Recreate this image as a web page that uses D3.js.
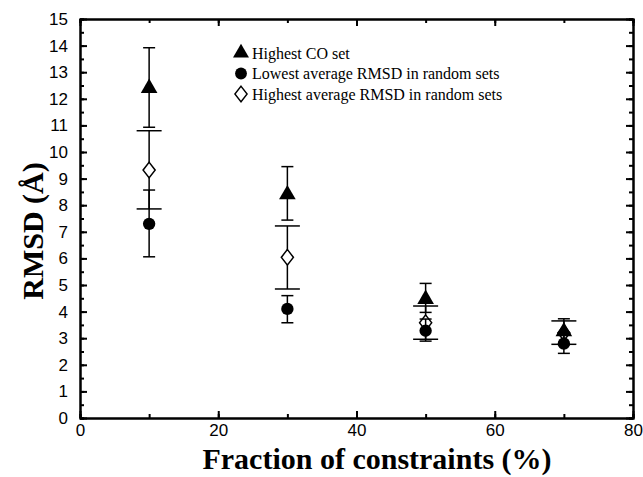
<!DOCTYPE html>
<html lang="en">
  <head>
    <meta charset="UTF-8" />
    <title>RMSD vs fraction of constraints</title>
    <script src="https://cdnjs.cloudflare.com/ajax/libs/d3/7.8.5/d3.min.js"></script>
    <style>
      body {
        margin: 0;
        background: #fff;
      }
      svg {
        font-family: 'Liberation Serif', 'Times New Roman', serif;
      }
      .axis path,
      .axis line {
        stroke: #000;
        stroke-width: 2px;
      }
      .axis text {
        font-size: 17px;
        fill: #000;
      }
      .err {
        stroke: #000;
        stroke-width: 1.5px;
      }
    </style>
  </head>
  <body>
    <svg width="643" height="477"></svg>
    <script>
      // data
      const fractions = [10, 30, 50, 70];

      const coMean = [12.4, 8.4, 4.47, 3.25];
      const coLow = [10.93, 7.44, 3.97, 2.75];
      const coHigh = [13.92, 9.45, 5.06, 3.73];

      const lowMean = [7.3, 4.1, 3.28, 2.8];
      const lowLow = [6.06, 3.58, 2.89, 2.43];
      const lowHigh = [8.57, 4.6, 3.72, 3.2];

      const highMean = [9.32, 6.04, 3.58, 3.2];
      const highLow = [7.86, 4.85, 2.96, 2.77];
      const highHigh = [10.8, 7.22, 4.21, 3.65];

      const xTicks = [0, 20, 40, 60, 80];
      const yTicks = d3.range(0, 16);
      const legendLabels = [
        'Highest CO set',
        'Lowest average RMSD in random sets',
        'Highest average RMSD in random sets',
      ];

      const svg = d3.select('svg');
      const x = d3.scaleLinear().domain([0, 80]).range([80, 633]);
      const y = d3.scaleLinear().domain([0, 15]).range([418, 19]);

      // axes, ticks pointing inward
      svg.append('g').attr('class', 'axis').attr('transform', 'translate(0,418)')
        .call(d3.axisBottom(x).tickValues(d3.range(0, 81, 10)).tickSize(-4).tickFormat(''));
      svg.append('g').attr('class', 'axis').attr('transform', 'translate(0,418)')
        .call(d3.axisBottom(x).tickValues(xTicks).tickSize(-7).tickPadding(6).tickSizeOuter(0));
      svg.append('g').attr('class', 'axis').attr('transform', 'translate(0,19)')
        .call(d3.axisTop(x).tickValues(d3.range(0, 81, 10)).tickSize(-4).tickFormat(''));
      svg.append('g').attr('class', 'axis').attr('transform', 'translate(0,19)')
        .call(d3.axisTop(x).tickValues(xTicks).tickSize(-7).tickFormat('').tickSizeOuter(0));

      svg.append('g').attr('class', 'axis').attr('transform', 'translate(80,0)')
        .call(d3.axisLeft(y).tickValues(d3.range(0, 15.1, 0.5)).tickSize(-4).tickFormat(''));
      svg.append('g').attr('class', 'axis').attr('transform', 'translate(80,0)')
        .call(d3.axisLeft(y).tickValues(yTicks).tickSize(-7).tickPadding(12).tickSizeOuter(0));
      svg.append('g').attr('class', 'axis').attr('transform', 'translate(633,0)')
        .call(d3.axisRight(y).tickValues(d3.range(0, 15.1, 0.5)).tickSize(-4).tickFormat(''));
      svg.append('g').attr('class', 'axis').attr('transform', 'translate(633,0)')
        .call(d3.axisRight(y).tickValues(yTicks).tickSize(-7).tickFormat('').tickSizeOuter(0));

      // axis titles
      svg.append('text')
        .attr('x', 377)
        .attr('y', 469)
        .attr('text-anchor', 'middle')
        .style('font-size', '30px')
        .style('font-weight', 'bold')
        .text('Fraction of constraints (%)');

      svg.append('text')
        .attr('transform', `translate(43,231) rotate(-90)`)
        .attr('text-anchor', 'middle')
        .style('font-size', '30px')
        .style('font-weight', 'bold')
        .text('RMSD (Å)');

      // series: mean, low, high, cap half-width, symbol
      const series = [
        { mean: highMean, low: highLow, high: highHigh, cap: 12.5, sym: d3.symbolDiamond, size: 70, fill: '#fff' },
        { mean: lowMean, low: lowLow, high: lowHigh, cap: 6, sym: d3.symbolCircle, size: 120, fill: '#000' },
        { mean: coMean, low: coLow, high: coHigh, cap: 6, sym: d3.symbolTriangle, size: 120, fill: '#000' },
      ];

      series.forEach(s => {
        const g = svg.append('g');
        const pts = fractions.map((f, i) => ({ f, m: s.mean[i], lo: s.low[i], hi: s.high[i] }));
        g.selectAll('.stem').data(pts).join('line').attr('class', 'err')
          .attr('x1', d => x(d.f)).attr('x2', d => x(d.f))
          .attr('y1', d => y(d.lo)).attr('y2', d => y(d.hi));
        ['lo', 'hi'].forEach(k => {
          g.selectAll('.cap-' + k).data(pts).join('line').attr('class', 'err')
            .attr('x1', d => x(d.f) - s.cap).attr('x2', d => x(d.f) + s.cap)
            .attr('y1', d => y(d[k])).attr('y2', d => y(d[k]));
        });
        g.selectAll('.mark').data(pts).join('path')
          .attr('transform', d => `translate(${x(d.f)},${y(d.m)}) scale(${s.sym === d3.symbolDiamond ? '1.35,1' : '1'})`)
          .attr('d', d3.symbol(s.sym, s.size))
          .attr('fill', s.fill)
          .attr('stroke', '#000')
          .attr('stroke-width', s.sym === d3.symbolDiamond ? 1.2 : 0);
      });

      // legend
      const legendSyms = [
        { sym: d3.symbolTriangle, size: 110, fill: '#000' },
        { sym: d3.symbolCircle, size: 110, fill: '#000' },
        { sym: d3.symbolDiamond, size: 70, fill: '#fff' },
      ];
      const legend = svg.append('g').attr('transform', 'translate(241,53)');
      legendLabels.forEach((label, i) => {
        const row = legend.append('g').attr('transform', `translate(0,${i * 20.5})`);
        row.append('path')
          .attr('d', d3.symbol(legendSyms[i].sym, legendSyms[i].size))
          .attr('transform', i === 2 ? 'scale(1.35,1)' : null)
          .attr('fill', legendSyms[i].fill)
          .attr('stroke', '#000')
          .attr('stroke-width', i === 2 ? 1.2 : 0);
        row.append('text')
          .attr('x', 11)
          .attr('y', 5.5)
          .style('font-size', '16px')
          .text(label);
      });
    </script>
  </body>
</html>
